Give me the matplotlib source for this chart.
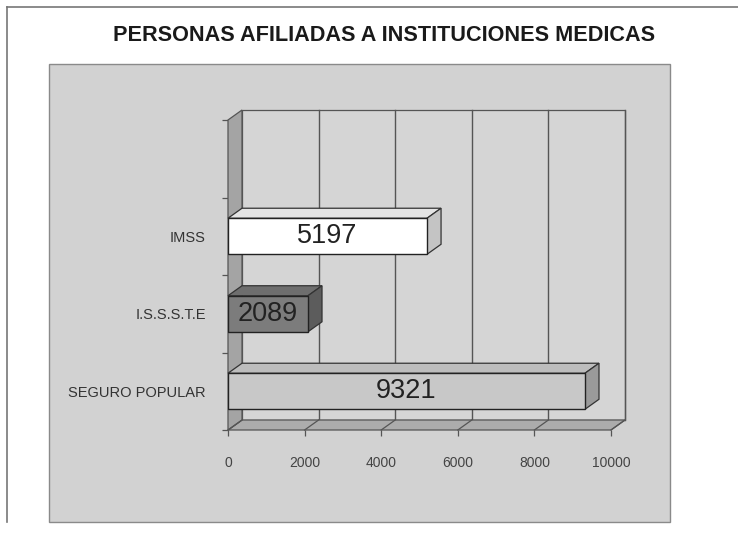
import matplotlib
matplotlib.use("Agg")
import matplotlib.pyplot as plt
from matplotlib.patches import Polygon, Rectangle
from matplotlib.lines import Line2D

plt.rcParams['font.family'] = ['Liberation Sans', 'DejaVu Sans']

# ---- data ----
categories = ["SEGURO POPULAR", "I.S.S.S.T.E", "IMSS"]
values = [9321, 2089, 5197]
bar_colors = ["#c8c8c8", "#7c7c7c", "#ffffff"]
side_colors = ["#9a9a9a", "#5c5c5c", "#c4c4c4"]
top_colors = ["#bdbdbd", "#6e6e6e", "#e4e4e4"]
x_ticks = [0, 2000, 4000, 6000, 8000, 10000]
title = "PERSONAS AFILIADAS A INSTITUCIONES MEDICAS"

W, H = 738, 534
fig = plt.figure(figsize=(W / 100, H / 100), dpi=100)
fig.patch.set_facecolor("white")

def fx(px):
    return px / W

def fy(py):
    return 1 - py / H

# outer frame lines
fig.add_artist(Line2D([fx(7), fx(738)], [fy(7), fy(7)], color="#777777", lw=1.2))
fig.add_artist(Line2D([fx(7), fx(7)], [fy(7), fy(522)], color="#777777", lw=1.2))

# chart area
fig.add_artist(Rectangle((fx(49), fy(522)), fx(670) - fx(49), fy(64) - fy(522),
                         transform=fig.transFigure, facecolor="#d2d2d2",
                         edgecolor="#8a8a8a", lw=1.0, zorder=0))

fig.text(fx(384), fy(36), title, ha="center", va="center", fontsize=15.6,
         fontweight="bold", color="#1a1a1a")

# plot axes (front plane)
L, R, T, B = 228, 611, 120, 430
ax = fig.add_axes([fx(L), fy(B), fx(R) - fx(L), fy(T) - fy(B)])
ax.set_xlim(0, 10000)
n_slots = len(categories) + 1
ax.set_ylim(-0.5, n_slots - 0.5)
ax.patch.set_alpha(0)
for s in ax.spines.values():
    s.set_visible(False)

px_per_x = (R - L) / 10000
px_per_y = (B - T) / n_slots
DX = 14 / px_per_x
DY = 10 / px_per_y
y0, y1 = -0.5, n_slots - 0.5
xmax = 10000
edge = "#555555"

# back wall
ax.add_patch(Polygon([(DX, y0 + DY), (xmax + DX, y0 + DY), (xmax + DX, y1 + DY), (DX, y1 + DY)],
                     closed=True, facecolor="#d5d5d5", edgecolor=edge, lw=0.9, zorder=1, clip_on=False))
for v in x_ticks[1:]:
    ax.plot([v + DX, v + DX], [y0 + DY, y1 + DY], color="#555555", lw=1.0, zorder=1.5, clip_on=False)
# floor
ax.add_patch(Polygon([(0, y0), (xmax, y0), (xmax + DX, y0 + DY), (DX, y0 + DY)],
                     closed=True, facecolor="#acacac", edgecolor=edge, lw=0.9, zorder=2, clip_on=False))
for v in x_ticks:
    ax.plot([v, v + DX], [y0, y0 + DY], color="#555555", lw=0.9, zorder=2.1, clip_on=False)
# left wall
ax.add_patch(Polygon([(0, y0), (DX, y0 + DY), (DX, y1 + DY), (0, y1)],
                     closed=True, facecolor="#a4a4a4", edgecolor=edge, lw=0.9, zorder=2, clip_on=False))

# bars
bh = 0.465
for i, (cat, v) in enumerate(zip(categories, values)):
    yb, yt = i - bh / 2, i + bh / 2
    ax.barh(i, v, height=bh, color=bar_colors[i], edgecolor="#222222", lw=1.0, zorder=5)
    ax.add_patch(Polygon([(0, yt), (v, yt), (v + DX, yt + DY), (DX, yt + DY)], closed=True,
                         facecolor=top_colors[i], edgecolor="#333333", lw=0.9, zorder=4, clip_on=False))
    ax.add_patch(Polygon([(v, yb), (v + DX, yb + DY), (v + DX, yt + DY), (v, yt)], closed=True,
                         facecolor=side_colors[i], edgecolor="#333333", lw=0.9, zorder=4, clip_on=False))
    ax.text(v / 2, i, f"{v}", ha="center", va="center", fontsize=19.5, color="#222222", zorder=6)

# ticks
ax.set_xticks(x_ticks)
ax.set_xticklabels([str(t) for t in x_ticks], fontsize=10, color="#444444")
ax.tick_params(axis="x", length=4, width=0.9, color="#555555", pad=15)
ax.set_yticks([k - 0.5 for k in range(n_slots + 1)])
ax.set_yticklabels([])
ax.tick_params(axis="y", length=4, width=0.9, color="#555555")
ax.set_yticks(range(len(categories)), minor=True)
ax.set_yticklabels(categories, minor=True, fontsize=10.5, color="#333333")
ax.tick_params(axis="y", which="minor", length=0, pad=16)

fig.savefig("out.png", dpi=100)
